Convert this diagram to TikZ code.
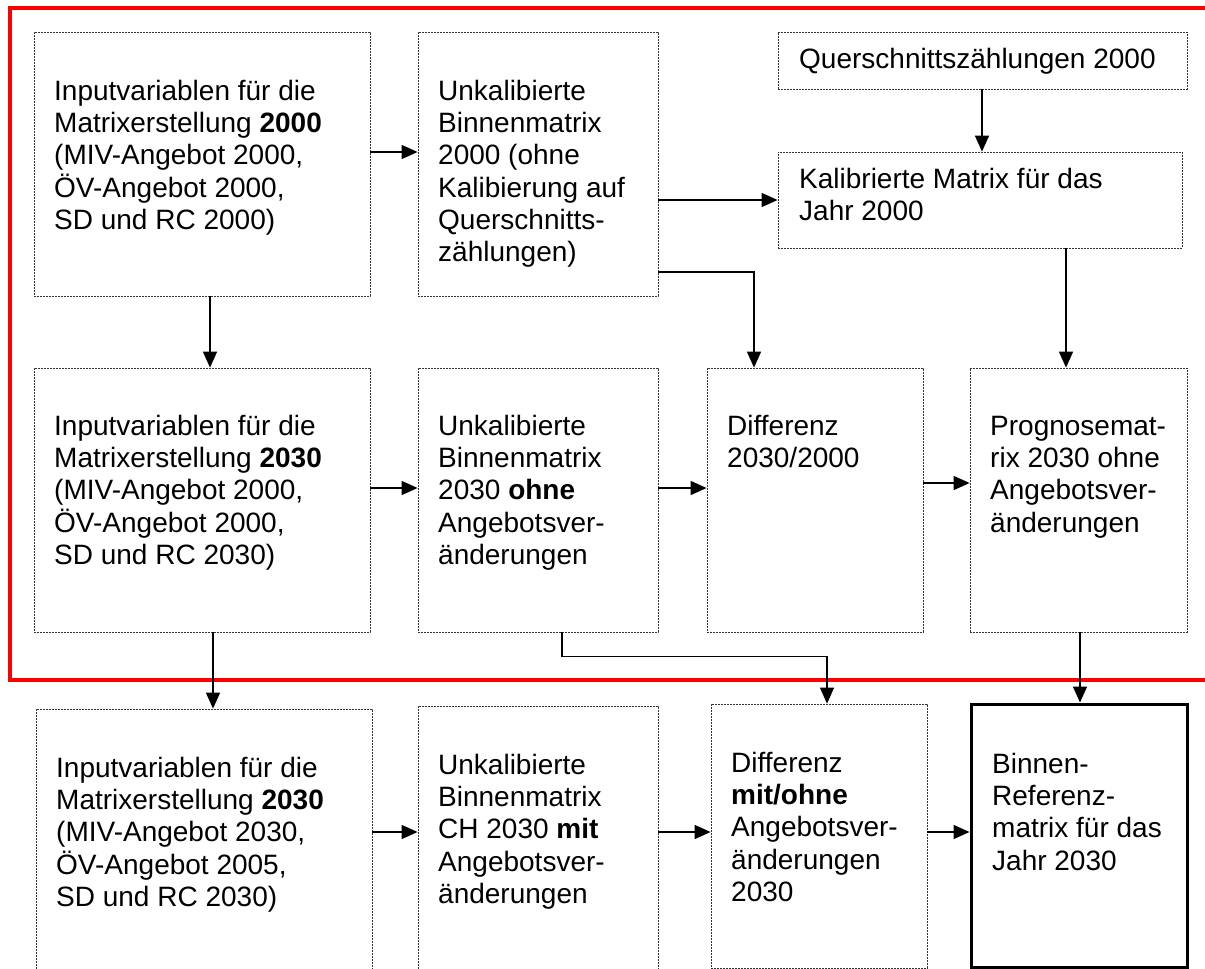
\documentclass[tikz,border=0pt]{standalone}
\usepackage{fontspec}
\setmainfont{Liberation Sans}
\usetikzlibrary{arrows.meta}
\newcommand\fstrut{\rule{0pt}{22pt}}
\begin{document}
\begin{tikzpicture}[x=1pt,y=-1pt,
  box/.style={draw=black!80, line width=0.8pt, dash pattern=on 2pt off 1pt, rectangle, inner sep=0pt},
  refbox/.style={draw=black, line width=3pt, rectangle, inner sep=0pt},
  txt/.style={anchor=north west, inner sep=0pt, align=left, font=\fontsize{28}{32.3}\selectfont},
  arr/.style={line width=1.6pt, -{Triangle[length=16pt,width=14pt]}},
  thinarr/.style={line width=1.1pt, -{Triangle[length=16pt,width=14pt]}},
]
\useasboundingbox (0,0) rectangle (1205,969);

% red frame
\draw[red, line width=4pt] (1205,8) -- (10,8) -- (10,680) -- (1205,680);

% boxes
\node[box, minimum width=336pt, minimum height=264pt] (a1) at (202,164) {};
\node[box, minimum width=240pt, minimum height=264pt] (b1) at (538,164) {};
\node[box, minimum width=409pt, minimum height=57pt] (q) at (982.5,60.5) {};
\node[box, minimum width=404pt, minimum height=96pt] (k) at (980,200) {};
\node[box, minimum width=336pt, minimum height=264pt] (a2) at (202,500) {};
\node[box, minimum width=240pt, minimum height=264pt] (b2) at (538,500) {};
\node[box, minimum width=216pt, minimum height=264pt] (d) at (815,500) {};
\node[box, minimum width=217pt, minimum height=264pt] (p) at (1078.5,500) {};
\node[box, minimum width=336pt, minimum height=264pt] (a3) at (204,841) {};
\node[box, minimum width=240pt, minimum height=264pt] (b3) at (538,838) {};
\node[box, minimum width=216pt, minimum height=264pt] (d3) at (819,836) {};
\node[refbox, minimum width=216pt, minimum height=263pt] (r) at (1079,835.5) {};

% texts
\node[txt] (a1t) at (54,78) {\fstrut Inputvariablen für die\\Matrixerstellung \textbf{2000}\\(MIV-Angebot 2000,\\ÖV-Angebot 2000,\\SD und RC 2000)};
\node[txt] (b1t) at (438,78) {\fstrut Unkalibierte\\Binnenmatrix\\2000 (ohne\\Kalibierung auf\\Querschnitts-\\zählungen)};
\node[txt] (qt) at (799,46) {\fstrut Querschnittszählungen 2000};
\node[txt] (kt) at (799,166) {\fstrut Kalibrierte Matrix für das\\Jahr 2000};
\node[txt] (a2t) at (54,413) {\fstrut Inputvariablen für die\\Matrixerstellung \textbf{2030}\\(MIV-Angebot 2000,\\ÖV-Angebot 2000,\\SD und RC 2030)};
\node[txt] (b2t) at (438,413) {\fstrut Unkalibierte\\Binnenmatrix\\2030 \textbf{ohne}\\Angebotsver-\\änderungen};
\node[txt] (dt) at (727,413) {\fstrut Differenz\\2030/2000};
\node[txt] (pt) at (990,413) {\fstrut Prognosemat-\\rix 2030 ohne\\Angebotsver-\\änderungen};
\node[txt] (a3t) at (56,755) {\fstrut Inputvariablen für die\\Matrixerstellung \textbf{2030}\\(MIV-Angebot 2030,\\ÖV-Angebot 2005,\\SD und RC 2030)};
\node[txt] (b3t) at (438,752) {\fstrut Unkalibierte\\Binnenmatrix\\CH 2030 \textbf{mit}\\Angebotsver-\\änderungen};
\node[txt] (d3t) at (731,750) {\fstrut Differenz\\\textbf{mit/ohne}\\Angebotsver-\\änderungen\\2030};
\node[txt] (rt) at (992,751) {\fstrut Binnen-\\Referenz-\\matrix für das\\Jahr 2030};

% connectors
\draw[arr] (a1.east |- 0,152) -- (b1.west |- 0,152);
\draw[arr] (b1.east |- k.west) -- (k.west);
\draw[arr] (q.south -| 982,0) -- (k.north -| 982,0);
\draw[arr] (b1.east |- 0,272) -| (d.north -| 754,0);
\draw[arr] (k.south -| 1066,0) -- (p.north -| 1066,0);
\draw[arr] (a1.south -| 210,0) -- (a2.north -| 210,0);
\draw[arr] (a2.east |- 0,488) -- (b2.west |- 0,488);
\draw[arr] (b2.east |- 0,488) -- (d.west |- 0,488);
\draw[arr] (d.east |- 0,483) -- (p.west |- 0,483);
\draw[arr] (a2.south -| 213,0) -- (a3.north -| 213,0);
\draw[thinarr] (b2.south -| 562,0) -- ++(0,24) -| (d3.north -| 827,0);
\draw[arr] (p.south -| 1080,0) -- (r.north -| 1080,0);
\draw[arr] (a3.east |- 0,832) -- (b3.west |- 0,832);
\draw[arr] (b3.east |- 0,832) -- (d3.west |- 0,832);
\draw[arr] (d3.east |- 0,832) -- (r.west |- 0,832);
\end{tikzpicture}
\end{document}
